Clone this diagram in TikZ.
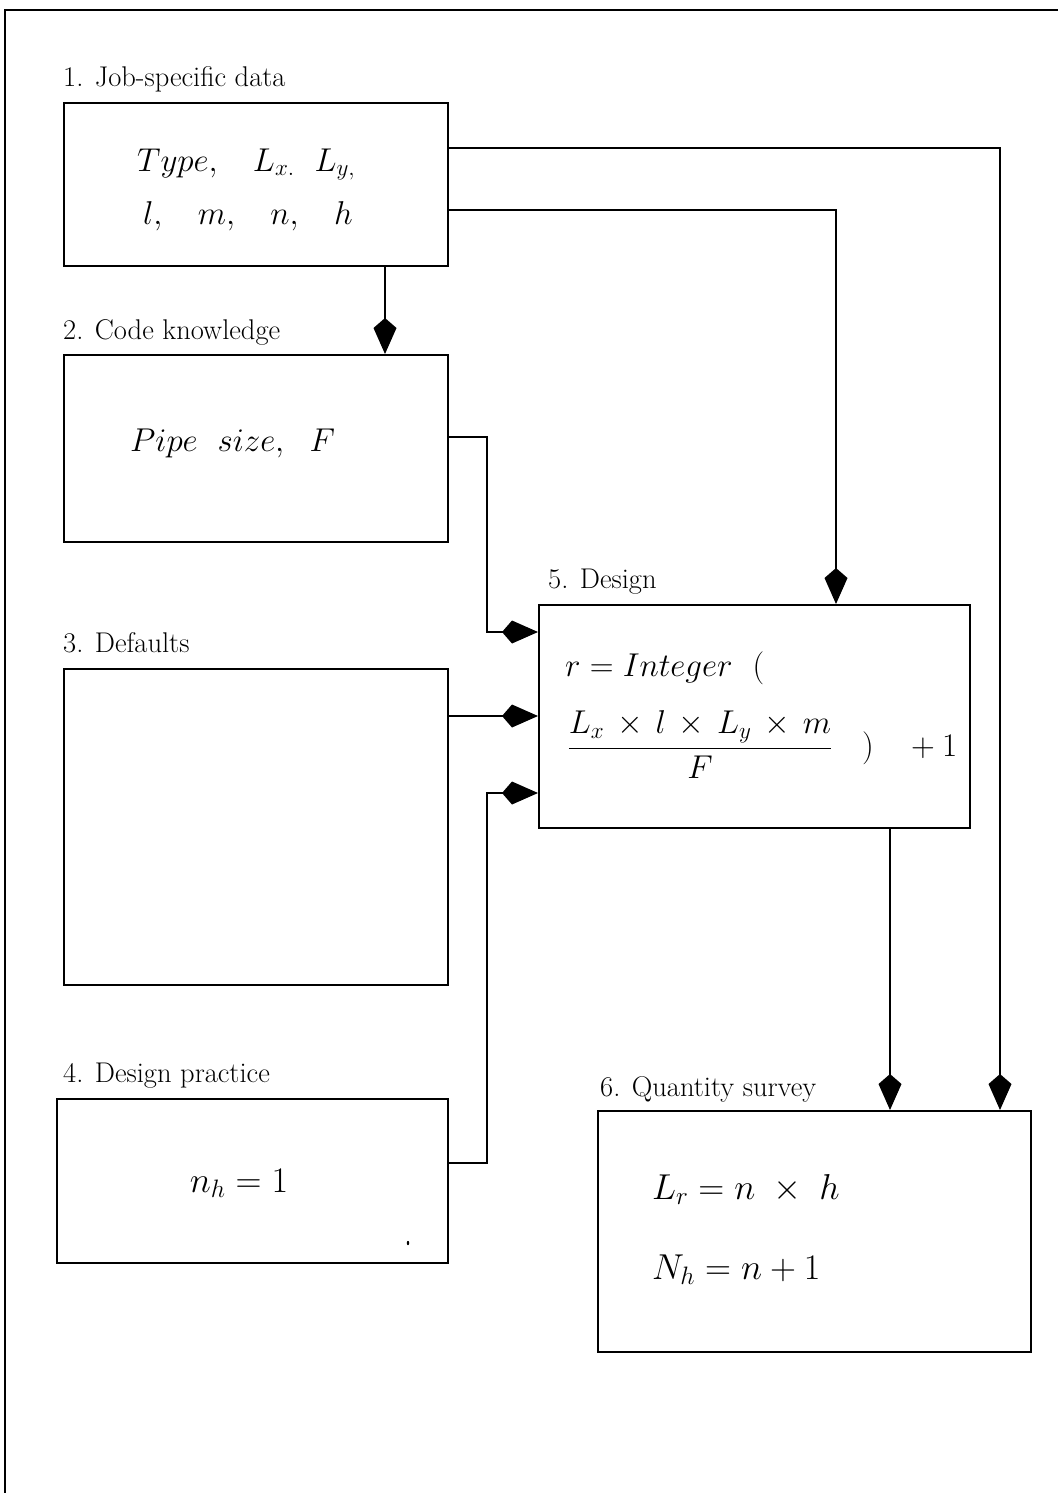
\RequirePackage{fix-cm}
\documentclass[tikz,border=0pt]{standalone}
\usepackage{fontspec}
\usetikzlibrary{arrows.meta}
\tikzset{
  box/.style={draw, line width=1.7pt, anchor=north west, inner sep=0pt},
  lbl/.style={anchor=base west, inner sep=0pt, font=\fontsize{28.5}{32}\selectfont},
  mth/.style={inner sep=0pt, font=\fontsize{33}{38}\selectfont},
  mthb/.style={inner sep=0pt, font=\fontsize{36}{40}\selectfont},
  conn/.style={line width=1.5pt, -{Kite[length=36pt,width=23pt,inset=10pt]}},
}
\begin{document}
\begin{tikzpicture}[x=1pt,y=-1pt]
\useasboundingbox (0,0) rectangle (1058,1493);
% frame
\draw[line width=1.6pt] (5,1493) -- (5,10) -- (1058,10);
% boxes
\node[box, minimum width=384pt, minimum height=163pt] (b1) at (63,102) {};
\node[box, minimum width=384pt, minimum height=187pt] (b2) at (63,354) {};
\node[box, minimum width=384pt, minimum height=316pt] (b3) at (63,668) {};
\node[box, minimum width=391pt, minimum height=164pt] (b4) at (56,1098) {};
\node[box, minimum width=431pt, minimum height=223pt] (b5) at (538,604) {};
\node[box, minimum width=433pt, minimum height=241pt] (b6) at (597,1110) {};
% labels
\node[lbl] (l1) at (63,87) {1. Job-specific data};
\node[lbl] (l2) at (63,339) {2. Code knowledge};
\node[lbl] (l3) at (63,652) {3. Defaults};
\node[lbl] (l4) at (63,1082) {4. Design practice};
\node[lbl] (l5) at (548,588) {5. Design};
\node[lbl] (l6) at (600,1096) {6. Quantity survey};
% contents
\node[mth, anchor=base west] (t1a) at (137,171) {$Type,\ \ \ L_{x.}\ \ L_{y,}$};
\node[mth, anchor=base west] (t1b) at (143,224) {$l,\ \ \ m,\ \ \ n,\ \ \ h$};
\node[mth, anchor=base west] (t2) at (130,451) {$Pipe\ \ size,\ \ F$};
\node[mthb, anchor=base] (t4) at (239,1192) {$n_h = 1$};
\node[mth, anchor=base west] (t5a) at (565,676) {$r = Integer\ \ ($};
\node[mth] (t5b) at (700,745) {$\displaystyle\frac{L_x \,\times\, l \,\times\, L_y \,\times\, m}{F}$};
\node[mth, anchor=base west] (t5c) at (862,756) {$)\ \ \ +1$};
\node[mthb, anchor=base west] (t6a) at (652,1199) {$L_r = n\;\times\;h$};
\node[mthb, anchor=base west] (t6b) at (652,1279) {$N_h = n + 1$};
\fill (408,1243) ellipse (1.2pt and 2.2pt);
% junctions
\coordinate (c1) at (385,300);
\coordinate (j1) at (1000,148);
\coordinate (k1) at (836,210);
\coordinate (j2) at (487,437);
\coordinate (j3) at (487,632);
\coordinate (j4) at (500,716);
\coordinate (j5) at (487,1163);
\coordinate (j6) at (487,793);
\coordinate (c2) at (890,900);
% connectors
\draw[conn] (b1.south -| c1) -- (b2.north -| c1);
\draw[conn] (b1.east |- j1) -- (j1) -- (b6.north -| j1);
\draw[conn] (b1.east |- k1) -- (k1) -- (b5.north -| k1);
\draw[conn] (b2.east |- j2) -- (j2) -- (j3) -- (b5.west |- j3);
\draw[conn] (b3.east |- j4) -- (b5.west |- j4);
\draw[conn] (b4.east |- j5) -- (j5) -- (j6) -- (b5.west |- j6);
\draw[conn] (b5.south -| c2) -- (b6.north -| c2);
\end{tikzpicture}
\end{document}
